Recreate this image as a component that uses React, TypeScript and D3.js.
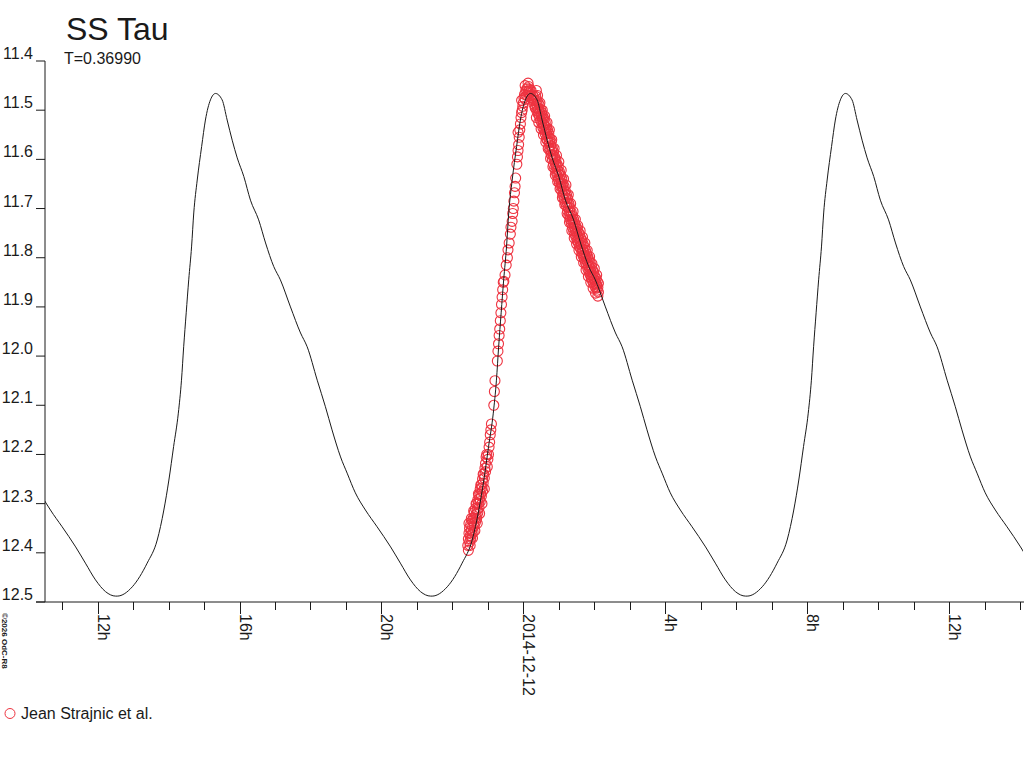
import React from 'react';
import * as d3 from 'd3';

// Light curve of SS Tau, period T = 0.36990 d
const periodDays = 0.3699;
const epochMax = Date.UTC(2014, 11, 12, 0, 12);

// one cycle of the model curve, phase relative to maximum
const modelPhase = [-0.312, -0.264, -0.217, -0.185, -0.164, -0.148, -0.133, -0.118, -0.108, -0.101, -0.093, -0.085, -0.076, -0.069, -0.058, -0.044, -0.032, -0.016, 0, 0.021, 0.037, 0.053, 0.069, 0.09, 0.111, 0.137, 0.159, 0.185, 0.206, 0.238, 0.27, 0.291, 0.323, 0.349, 0.37, 0.397, 0.418, 0.444, 0.476, 0.513, 0.556, 0.587, 0.619, 0.651, 0.683];
const modelMag = [12.488, 12.469, 12.421, 12.374, 12.313, 12.252, 12.184, 12.116, 12.049, 11.981, 11.912, 11.845, 11.778, 11.709, 11.642, 11.574, 11.52, 11.479, 11.466, 11.479, 11.52, 11.561, 11.597, 11.635, 11.683, 11.723, 11.77, 11.818, 11.845, 11.9, 11.953, 11.981, 12.049, 12.103, 12.15, 12.205, 12.238, 12.278, 12.313, 12.347, 12.388, 12.421, 12.455, 12.479, 12.488];

// observations: [minutes from 2014-12-12 00:00 UT, magnitude]
const risingObs: [number, number][] = [
  [-94, 12.385], [-93, 12.372], [-93, 12.395], [-92, 12.36], [-91, 12.378], [-91, 12.35], [-90, 12.365], [-89, 12.342], [-89, 12.372],
  [-88, 12.355], [-87, 12.335], [-87, 12.362], [-86, 12.348], [-85, 12.33], [-85, 12.358], [-84, 12.34], [-83, 12.318], [-83, 12.345],
  [-82, 12.33], [-81, 12.31], [-81, 12.338], [-80, 12.322], [-79, 12.3], [-79, 12.33], [-78, 12.312], [-77, 12.292], [-77, 12.318],
  [-76, 12.3], [-75, 12.282], [-75, 12.308], [-74, 12.29], [-73, 12.27], [-73, 12.296], [-72, 12.28], [-71, 12.262], [-71, 12.285],
  [-70, 12.268], [-69, 12.25], [-69, 12.275], [-68, 12.258], [-67, 12.24], [-66, 12.248], [-65, 12.228], [-64, 12.218], [-63, 12.205],
  [-92, 12.34], [-90, 12.385], [-88, 12.33], [-86, 12.37], [-84, 12.315], [-82, 12.355], [-80, 12.3], [-78, 12.34], [-76, 12.28],
  [-74, 12.32], [-72, 12.262], [-70, 12.3], [-68, 12.24], [-66, 12.27], [-64, 12.235], [-62, 12.2],
  [-61, 12.225], [-60, 12.21], [-59, 12.2], [-58, 12.185], [-57, 12.175], [-56, 12.16], [-55, 12.15], [-54, 12.138],
  [-50, 12.1], [-49, 12.072], [-48, 12.05],
  [-44, 12.01], [-43, 11.99], [-42, 11.975], [-41, 11.958], [-40, 11.945], [-39, 11.928], [-38, 11.912], [-37, 11.895], [-36, 11.88],
  [-35, 11.865], [-34, 11.85], [-33, 11.848], [-31, 11.835], [-29, 11.815], [-27, 11.8], [-26, 11.784], [-24, 11.77], [-22, 11.752],
  [-21, 11.738], [-19, 11.726], [-18, 11.71], [-17, 11.7], [-16, 11.685], [-15, 11.668], [-14, 11.655], [-13, 11.638], [-11, 11.61],
  [-10, 11.595], [-9, 11.582], [-9, 11.545], [-8, 11.57], [-7, 11.555], [-6, 11.54], [-5, 11.528], [-4, 11.515], [-3, 11.505],
  [-2, 11.5], [-1, 11.492], [-3, 11.48],
];

const peakObs: [number, number][] = [
  [0, 11.485], [1, 11.475], [2, 11.468], [3, 11.478], [4, 11.462], [5, 11.458], [6, 11.47], [7, 11.455], [8, 11.462], [9, 11.452],
  [10, 11.466], [11, 11.458], [12, 11.47], [13, 11.46], [14, 11.475], [15, 11.468], [16, 11.48], [17, 11.472], [18, 11.488], [19, 11.48],
  [20, 11.495], [22, 11.46], [3, 11.45], [8, 11.445],
];

const decliningObs: [number, number][] = [
  [21, 11.472], [21, 11.495], [22, 11.488], [23, 11.48], [23, 11.502], [24, 11.495], [25, 11.485], [25, 11.508], [26, 11.498],
  [27, 11.512], [27, 11.49], [28, 11.505], [29, 11.52], [29, 11.498], [30, 11.512], [31, 11.525], [31, 11.505], [32, 11.518],
  [33, 11.535], [33, 11.512], [34, 11.528], [35, 11.54], [35, 11.518], [36, 11.532], [37, 11.548], [37, 11.525], [38, 11.54],
  [39, 11.558], [39, 11.535], [40, 11.548], [41, 11.562], [41, 11.54], [42, 11.555], [43, 11.575], [43, 11.548], [44, 11.565],
  [45, 11.582], [45, 11.558], [46, 11.572], [47, 11.59], [47, 11.565], [48, 11.583], [49, 11.6], [49, 11.578], [50, 11.592],
  [51, 11.61], [51, 11.585], [52, 11.6], [53, 11.618], [53, 11.595], [54, 11.608], [55, 11.625], [55, 11.6], [56, 11.615],
  [57, 11.632], [57, 11.61], [58, 11.622], [59, 11.64], [59, 11.615], [60, 11.63], [61, 11.648], [61, 11.625], [62, 11.64],
  [63, 11.655], [63, 11.632], [64, 11.648], [65, 11.665], [65, 11.64], [66, 11.655], [67, 11.672], [67, 11.65], [68, 11.662],
  [69, 11.68], [69, 11.655], [70, 11.67], [71, 11.688], [71, 11.664], [72, 11.678], [73, 11.695], [73, 11.672], [74, 11.688],
  [75, 11.705], [75, 11.68], [76, 11.698], [77, 11.715], [77, 11.69], [78, 11.705], [79, 11.722], [79, 11.698], [80, 11.715],
  [81, 11.73], [81, 11.708], [82, 11.722], [83, 11.738], [83, 11.715], [84, 11.73], [85, 11.745], [85, 11.722], [86, 11.738],
  [87, 11.752], [87, 11.73], [88, 11.745], [89, 11.758], [89, 11.736], [90, 11.75], [91, 11.765], [91, 11.742], [92, 11.756],
  [93, 11.77], [93, 11.748], [94, 11.762], [95, 11.778], [95, 11.752], [96, 11.768], [97, 11.782], [97, 11.76], [98, 11.775],
  [99, 11.79], [99, 11.765], [100, 11.782], [101, 11.796], [101, 11.772], [102, 11.788], [103, 11.802], [103, 11.778], [104, 11.795],
  [105, 11.81], [105, 11.785], [106, 11.8], [107, 11.815], [107, 11.792], [108, 11.808], [109, 11.822], [109, 11.798], [110, 11.815],
  [111, 11.828], [111, 11.805], [112, 11.82], [113, 11.835], [113, 11.81], [114, 11.828], [115, 11.842], [115, 11.818], [116, 11.835],
  [117, 11.848], [117, 11.825], [118, 11.84], [119, 11.852], [119, 11.83], [120, 11.845], [121, 11.858], [121, 11.838], [122, 11.85],
  [123, 11.862], [123, 11.842], [124, 11.855], [125, 11.866], [125, 11.848], [126, 11.86], [127, 11.87],
];

// the wider scatter around the declining branch
const decliningWideObs: [number, number][] = [
  [22, 11.515], [24, 11.47], [26, 11.525], [28, 11.485], [30, 11.538], [32, 11.5], [34, 11.55], [36, 11.512], [38, 11.565],
  [40, 11.525], [42, 11.578], [44, 11.54], [46, 11.598], [48, 11.56], [50, 11.615], [52, 11.578], [54, 11.632], [56, 11.592],
  [58, 11.645], [60, 11.605], [62, 11.66], [64, 11.622], [66, 11.678], [68, 11.64], [70, 11.692], [72, 11.652], [74, 11.71],
  [76, 11.672], [78, 11.728], [80, 11.69], [82, 11.745], [84, 11.706], [86, 11.76], [88, 11.722], [90, 11.772], [92, 11.735],
  [94, 11.785], [96, 11.745], [98, 11.798], [100, 11.758], [102, 11.81], [104, 11.77], [106, 11.825], [108, 11.785], [110, 11.838],
  [112, 11.798], [114, 11.85], [116, 11.812], [118, 11.862], [120, 11.822], [122, 11.872], [124, 11.835], [126, 11.878], [127, 11.852],
];

const yTicks = [11.4, 11.5, 11.6, 11.7, 11.8, 11.9, 12.0, 12.1, 12.2, 12.3, 12.4, 12.5];
const observer = 'Jean Strajnic et al.';

const W = 1024;
const H = 768;
const font = '"Liberation Sans", Arial, sans-serif';
const red = '#ee3340';
const ink = '#1a1a1a';

const App: React.FC = () => {
  const x = d3.scaleUtc()
    .domain([new Date(Date.UTC(2014, 11, 11, 10, 31)), new Date(Date.UTC(2014, 11, 12, 14, 5))])
    .range([45, 1023]);
  const y = d3.scaleLinear().domain([11.4, 12.5]).range([61, 602]);
  const axisY = y(12.5);

  const dayMs = 86400000;
  const model: { t: Date; m: number }[] = [];
  for (let k = -2; k <= 2; k++) {
    modelPhase.forEach((p, i) => {
      model.push({ t: new Date(epochMax + (p + k) * periodDays * dayMs), m: modelMag[i] });
    });
  }
  const line = d3.line<{ t: Date; m: number }>()
    .x(d => x(d.t))
    .y(d => y(d.m))
    .curve(d3.curveMonotoneX);

  const midnight = Date.UTC(2014, 11, 12, 0, 0);
  const obs = [...risingObs, ...peakObs, ...decliningObs, ...decliningWideObs];

  const hours = d3.utcHour.every(1)!.range(x.domain()[0], x.domain()[1]);
  const fmtDay = d3.utcFormat('%Y-%m-%d');

  return (
    <svg width={W} height={H} style={{ position: 'absolute', left: 0, top: 0, background: '#fff' }}
      fontFamily={font}>
      <defs>
        <clipPath id="plot">
          <rect x={45} y={0} width={978} height={H} />
        </clipPath>
      </defs>

      <text x={66} y={40} fontSize={32} fill={ink}>SS Tau</text>
      <text x={64} y={64} fontSize={16} fill={ink}>T=0.36990</text>

      {/* y axis */}
      <line x1={45} x2={45} y1={y(11.4)} y2={axisY} stroke={ink} />
      {yTicks.map(t => (
        <g key={t}>
          <line x1={36} x2={45} y1={y(t)} y2={y(t)} stroke={ink} />
          <text x={33} y={y(t) - 2} fontSize={16} textAnchor="end" fill={ink}>{t.toFixed(1)}</text>
        </g>
      ))}

      {/* x axis */}
      <line x1={36} x2={1024} y1={axisY} y2={axisY} stroke={ink} />
      {hours.map(h => {
        const hr = h.getUTCHours();
        const major = hr % 4 === 0;
        const px = Math.round(x(h)) + 0.5;
        return (
          <g key={h.getTime()}>
            <line x1={px} x2={px} y1={axisY} y2={axisY + (major ? 12 : 8)} stroke={ink} />
            {major && (
              <text transform={`translate(${px - 0.5},${axisY + 12}) rotate(90)`} fontSize={16} fill={ink}>
                {hr === 0 ? fmtDay(h) : `${hr}h`}
              </text>
            )}
          </g>
        );
      })}

      <text transform="translate(2,613) rotate(90)" fontSize={8} fontWeight="bold" fill={ink}>©2026 OdC-R8</text>

      {/* observations */}
      <g clipPath="url(#plot)">
        {obs.map(([mi, m], i) => (
          <circle key={i} cx={x(new Date(midnight + mi * 60000))} cy={y(m)} r={5}
            fill="none" stroke={red} strokeWidth={1.1} />
        ))}
        <path d={line(model) ?? ''} fill="none" stroke={ink} strokeWidth={1} />
      </g>

      {/* legend */}
      <circle cx={10} cy={713.5} r={5} fill="none" stroke={red} strokeWidth={1} />
      <text x={21} y={719} fontSize={16} fill={ink}>{observer}</text>
    </svg>
  );
};

export default App;
